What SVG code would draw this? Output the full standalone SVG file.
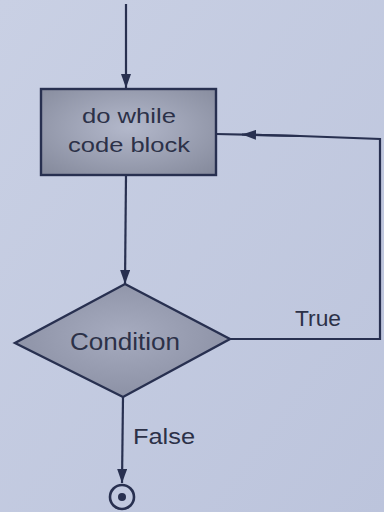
<svg xmlns="http://www.w3.org/2000/svg" width="384" height="512" viewBox="0 0 384 512">
  <defs>
    <linearGradient id="paper" x1="0" y1="0" x2="1" y2="1">
      <stop offset="0" stop-color="#c9d0e4"/>
      <stop offset="1" stop-color="#bcc4dc"/>
    </linearGradient>
    <radialGradient id="boxFill" cx="0.5" cy="0.45" r="0.7">
      <stop offset="0" stop-color="#b3b8cb"/>
      <stop offset="1" stop-color="#868b9d"/>
    </radialGradient>
    <radialGradient id="diamondFill" cx="0.5" cy="0.45" r="0.6">
      <stop offset="0" stop-color="#a6abbf"/>
      <stop offset="1" stop-color="#8a8fa3"/>
    </radialGradient>
    <marker id="arrow" viewBox="0 0 14 10" refX="14" refY="5" markerWidth="14" markerHeight="10" markerUnits="userSpaceOnUse" orient="auto">
      <path d="M0,0 L14,5 L0,10 Z" fill="#283050"/>
    </marker>
  </defs>
  <style>
    .edge { fill: none; stroke: #283050; stroke-width: 2.2; }
    .shape { stroke: #283050; stroke-width: 2.4; }
    .label { font-family: "Liberation Sans", Arial, sans-serif; fill: #2c3148; text-anchor: middle; }
  </style>

  <rect width="384" height="512" fill="url(#paper)"/>

  <!-- connectors -->
  <g id="connectors">
    <path class="edge" d="M126,4 L126,88" marker-end="url(#arrow)"/>
    <path class="edge" d="M126,175 L125,284" marker-end="url(#arrow)"/>
    <path class="edge" d="M230,339 L380,339 L380,139 L300,136 L216,134"/>
    <path class="edge" d="M300,136 L242,134.5" marker-end="url(#arrow)"/>
    <path class="edge" d="M123,397 L122,483" marker-end="url(#arrow)"/>
    <text class="label" x="318" y="326" font-size="22" textLength="46" lengthAdjust="spacingAndGlyphs">True</text>
    <text class="label" x="164" y="444" font-size="22" textLength="62" lengthAdjust="spacingAndGlyphs">False</text>
  </g>

  <!-- process: loop body -->
  <g id="code-block">
    <rect class="shape" x="41" y="89" width="175" height="86" fill="url(#boxFill)"/>
    <text class="label" x="129" y="123" font-size="21" textLength="94" lengthAdjust="spacingAndGlyphs">do while</text>
    <text class="label" x="129" y="152" font-size="21" textLength="122" lengthAdjust="spacingAndGlyphs">code block</text>
  </g>

  <!-- decision -->
  <g id="condition">
    <polygon class="shape" points="125,284 230,339 123,397 15,343" fill="url(#diamondFill)" stroke-linejoin="miter"/>
    <text class="label" x="125" y="350" font-size="23" textLength="110" lengthAdjust="spacingAndGlyphs">Condition</text>
  </g>

  <!-- end point -->
  <g id="end">
    <circle cx="122" cy="497" r="12" fill="none" stroke="#283050" stroke-width="2.6"/>
    <circle cx="122" cy="497" r="4" fill="#283050"/>
  </g>
</svg>
